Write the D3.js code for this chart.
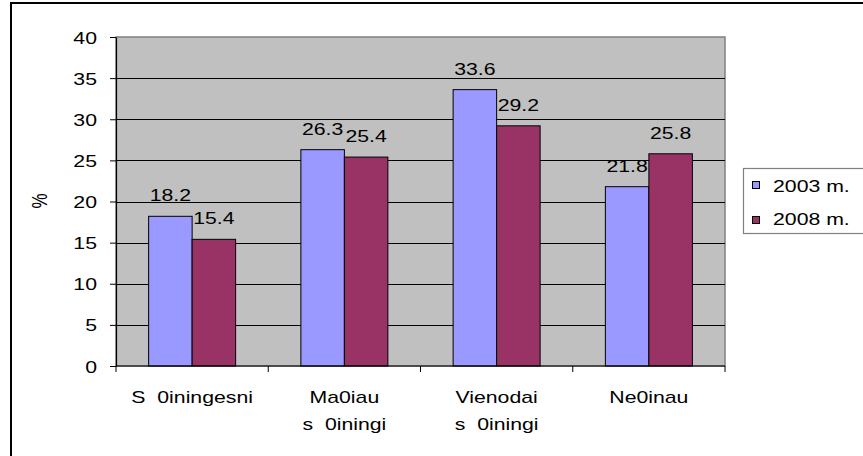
<!DOCTYPE html>
<html>
<head>
<meta charset="utf-8">
<script src="https://cdn.jsdelivr.net/npm/d3@7"></script>
<style>
  html, body { margin: 0; padding: 0; background: #fff; }
  svg { display: block; }
  text { font-family: "Liberation Sans", Arial, sans-serif; fill: #000; white-space: pre; }
</style>
</head>
<body>
<svg id="chart" width="863" height="456"></svg>
<script>
// Survey answers, share of respondents (%)
const categories = [
  ["S\u00a0\u00a00iningesni"],
  ["Ma0iau", "s\u00a0\u00a00iningi"],
  ["Vienodai", "s\u00a0\u00a00iningi"],
  ["Ne0inau"]
];
const seriesNames = ["2003 m.", "2008 m."];
const values2003 = [18.2, 26.3, 33.6, 21.8];
const values2008 = [15.4, 25.4, 29.2, 25.8];
const yTicks = [0, 5, 10, 15, 20, 25, 30, 35, 40];
const colors = ["#9999FF", "#993366"];

const svg = d3.select("#chart");
const plot = { left: 116, right: 725, top: 37, bottom: 366 };
const sx = 1.25; // horizontal text stretch

// Place text with a horizontal stretch around its anchor point
function stretchedText(sel, x, y) {
  return sel.attr("transform", `translate(${x},${y}) scale(${sx},1)`);
}

// Outer frame (top and left edges)
svg.append("line").attr("x1", 10).attr("x2", 863).attr("y1", 3).attr("y2", 3)
  .attr("stroke", "#000").attr("stroke-width", 2);
svg.append("line").attr("x1", 11).attr("x2", 11).attr("y1", 2).attr("y2", 456)
  .attr("stroke", "#000").attr("stroke-width", 2);

const x0 = d3.scaleBand()
  .domain(d3.range(categories.length))
  .range([plot.left, plot.right])
  .paddingInner(0).paddingOuter(0);

const x1 = d3.scaleBand()
  .domain([0, 1])
  .range([0, x0.bandwidth()])
  .paddingInner(0)
  .paddingOuter(0.75);

const y = d3.scaleLinear().domain([0, 40]).range([plot.bottom, plot.top]);

// Plot background
svg.append("rect")
  .attr("x", plot.left).attr("y", plot.top)
  .attr("width", plot.right - plot.left).attr("height", plot.bottom - plot.top)
  .attr("fill", "#C0C0C0").attr("stroke", "#808080").attr("stroke-width", 1.5);

// Horizontal gridlines
svg.append("g").selectAll("line")
  .data(yTicks.filter(d => d > 0 && d < 40))
  .join("line")
  .attr("x1", plot.left).attr("x2", plot.right)
  .attr("y1", d => Math.round(y(d)) + 0.5).attr("y2", d => Math.round(y(d)) + 0.5)
  .attr("stroke", "#000").attr("stroke-width", 1);

// Bars
const series = [values2003, values2008];
series.forEach((vals, si) => {
  svg.append("g").selectAll("rect")
    .data(vals)
    .join("rect")
    .attr("x", (d, i) => x0(i) + x1(si))
    .attr("y", d => y(d))
    .attr("width", x1.bandwidth())
    .attr("height", d => y(0) - y(d))
    .attr("fill", colors[si])
    .attr("stroke", "#000").attr("stroke-width", 1);
});

// Value labels
series.forEach((vals, si) => {
  svg.append("g").selectAll("text")
    .data(vals)
    .join("text")
    .each(function(d, i) {
      stretchedText(d3.select(this), x0(i) + x1(si) + x1.bandwidth() / 2, y(d) - 15);
    })
    .attr("text-anchor", "middle")
    .attr("font-size", 17)
    .text(d => d.toFixed(1));
});

// Y axis
const yAxis = svg.append("g").attr("transform", `translate(${plot.left},0)`)
  .call(d3.axisLeft(y).tickValues(yTicks).tickSizeInner(6).tickSizeOuter(0)
    .tickPadding(0).tickFormat(d3.format("d")));
yAxis.select(".domain").attr("stroke", "#000").attr("stroke-width", 1.2);
yAxis.selectAll(".tick line").attr("stroke", "#000");
yAxis.selectAll(".tick text")
  .attr("x", null).attr("dy", null)
  .attr("font-size", 17).attr("font-family", null)
  .attr("text-anchor", "end")
  .attr("transform", `translate(-19,6) scale(${sx},1)`);

// X axis
const xAxis = svg.append("g").attr("transform", `translate(0,${plot.bottom})`);
xAxis.append("line").attr("x1", plot.left).attr("x2", plot.right)
  .attr("stroke", "#000").attr("stroke-width", 1.2);
xAxis.selectAll("line.tick")
  .data(d3.range(categories.length + 1))
  .join("line").attr("class", "tick")
  .attr("x1", i => i < categories.length ? x0(i) : plot.right)
  .attr("x2", i => i < categories.length ? x0(i) : plot.right)
  .attr("y1", 0).attr("y2", 6)
  .attr("stroke", "#000");

// Category labels
categories.forEach((lines, i) => {
  lines.forEach((t, li) => {
    const el = svg.append("text")
      .attr("text-anchor", "middle")
      .attr("font-size", 17)
      .text(t);
    stretchedText(el, x0(i) + x0.bandwidth() / 2, 403 + li * 27);
  });
});

// Y axis title
svg.append("text")
  .attr("transform", "translate(47,201) rotate(-90) scale(1,1.25)")
  .attr("text-anchor", "middle")
  .attr("font-size", 17)
  .text("%");

// Legend
const legend = svg.append("g");
legend.append("rect")
  .attr("x", 743.5).attr("y", 168.5).attr("width", 140).attr("height", 65)
  .attr("fill", "#fff").attr("stroke", "#808080").attr("stroke-width", 1.2);
seriesNames.forEach((name, i) => {
  legend.append("rect")
    .attr("x", 752.5).attr("y", 181.5 + i * 35).attr("width", 7).attr("height", 7)
    .attr("fill", colors[i]).attr("stroke", "#000").attr("stroke-width", 1);
  const t = legend.append("text").attr("font-size", 17).text(name);
  stretchedText(t, 773, 192 + i * 33);
});
</script>
</body>
</html>
